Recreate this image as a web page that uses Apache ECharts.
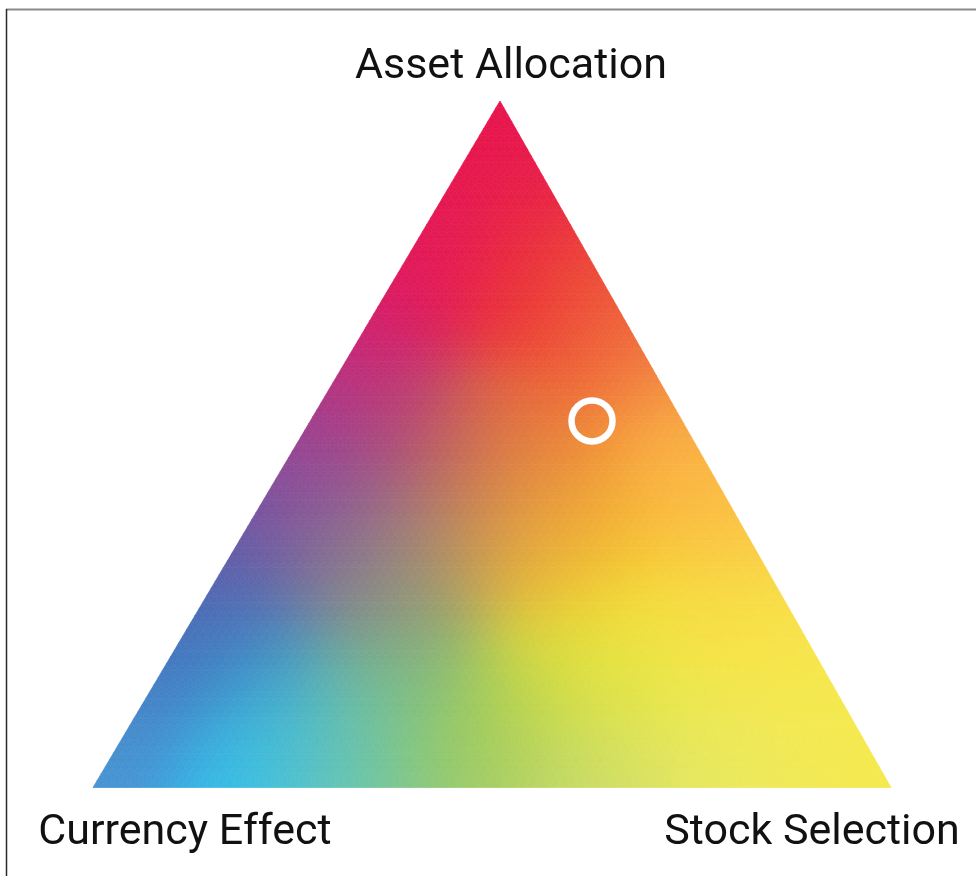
<!DOCTYPE html>
<html>
<head>
<meta charset="utf-8">
<title>Attribution triangle</title>
<script src="https://cdn.jsdelivr.net/npm/echarts@6/dist/echarts.min.js"></script>
<style>
  html, body { margin: 0; padding: 0; background: #fff; }
  #chart { width: 976px; height: 876px; }
</style>
</head>
<body>
<div id="chart"></div>
<script>
// ================= data =================
// corners: top, bottom-right, bottom-left
const cornerNames = ['Asset Allocation', 'Stock Selection', 'Currency Effect']

// the marked point, as shares of each corner
const assetShare = [0.534]
const stockShare = [0.353]
const currencyShare = [0.113]

// ================= background colours =================
// [asset, stock, colour], blended smoothly
const colorStops = [
  // left edge (stock = 0)
  [1.00, 0.00, '#e8134f'], [0.88, 0.00, '#e6164f'], [0.77, 0.00, '#e2175c'],
  [0.68, 0.00, '#d61c6a'], [0.60, 0.00, '#c02a80'], [0.52, 0.00, '#a03a90'],
  [0.45, 0.00, '#84489c'], [0.375, 0.00, '#6a56a8'], [0.30, 0.00, '#5660ac'],
  [0.20, 0.00, '#4470bc'], [0.10, 0.00, '#4886c8'], [0.00, 0.00, '#4a98d6'],
  // bottom edge (asset = 0)
  [0.00, 0.17, '#30c2f0'], [0.00, 0.28, '#5cc4cc'], [0.00, 0.36, '#78c898'],
  [0.00, 0.46, '#98ca68'], [0.00, 0.55, '#b8d468'], [0.00, 0.65, '#d4e070'],
  [0.00, 0.78, '#e8e860'], [0.00, 0.90, '#f2ea55'], [0.00, 1.00, '#f5ea4c'],
  // right edge
  [0.15, 0.85, '#f5e84e'], [0.30, 0.70, '#f8dc48'], [0.40, 0.60, '#fbc444'],
  [0.45, 0.55, '#fbb845'], [0.55, 0.45, '#f59a45'], [0.65, 0.35, '#f07840'],
  [0.75, 0.25, '#ee4a3c'], [0.88, 0.12, '#e81e4a'],
  // inside
  [0.768, 0.043, '#e5185a'], [0.754, 0.151, '#ea2a3c'], [0.710, 0.185, '#ec3530'],
  [0.681, 0.288, '#ef6535'], [0.535, 0.112, '#b84276'], [0.492, 0.197, '#b85a60'],
  [0.450, 0.080, '#9a4c92'],
  [0.419, 0.271, '#b07a6a'], [0.535, 0.274, '#ef6a35'], [0.419, 0.346, '#ea9a40'],
  [0.361, 0.376, '#e4b440'], [0.375, 0.106, '#7e6a9c'], [0.361, 0.200, '#9a8080'],
  [0.317, 0.160, '#8a7c8a'], [0.331, 0.278, '#c0a050'], [0.331, 0.404, '#e8b830'],
  [0.273, 0.509, '#f8e430'], [0.244, 0.260, '#7ea080'], [0.200, 0.107, '#3a88c8'],
  [0.098, 0.172, '#38bce0'], [0.127, 0.257, '#68c0a8'], [0.157, 0.330, '#80c080'],
  [0.098, 0.435, '#9ac858'], [0.127, 0.483, '#b8d448'], [0.157, 0.556, '#d8e040'],
  [0.127, 0.620, '#e8e84a'], [0.040, 0.615, '#c8dc68'], [0.477, 0.292, '#e87038'],
  [0.419, 0.372, '#f8a030'], [0.361, 0.451, '#fbb530'], [0.448, 0.507, '#fcb840'],
  [0.273, 0.621, '#f8d540'], [0.200, 0.721, '#f8e84a'], [0.200, 0.596, '#f5eb45'],
  [0.200, 0.483, '#e4e238'], [0.069, 0.725, '#eeea5a']
]

const APEX_X = 0.51 // top corner sits slightly right of centre
const toXY = (a, s) => [s + a * APEX_X, a]

const hexToRgb = (h) => [
  parseInt(h.slice(1, 3), 16),
  parseInt(h.slice(3, 5), 16),
  parseInt(h.slice(5, 7), 16)
]

// ================= triangle =================
const renderTriangle = (params, api) => {
  const stops = colorStops.map(d => {
    const p = api.coord(toXY(d[0], d[1]))
    return { x: p[0], y: p[1], rgb: hexToRgb(d[2]) }
  })
  const sig2 = 2 * 52 * 52
  const colorAt = (x, y) => {
    let r = 0, g = 0, b = 0, w = 0
    for (const st of stops) {
      const dx = x - st.x, dy = y - st.y
      const k = Math.exp(-(dx * dx + dy * dy) / sig2) + 1e-12
      r += st.rgb[0] * k; g += st.rgb[1] * k; b += st.rgb[2] * k; w += k
    }
    return [r / w, g / w, b / w]
  }

  const N = 100
  const verts = []
  for (let i = 0; i <= N; i++) {
    const row = []
    for (let j = 0; j <= i; j++) {
      const p = api.coord(toXY(1 - i / N, j / N))
      row.push({ p, c: colorAt(p[0], p[1]) })
    }
    verts.push(row)
  }

  const children = []
  const addTri = (v1, v2, v3) => {
    const c = [0, 1, 2].map(k => Math.round((v1.c[k] + v2.c[k] + v3.c[k]) / 3))
    const col = 'rgb(' + c.join(',') + ')'
    children.push({
      type: 'polygon',
      shape: { points: [v1.p, v2.p, v3.p] },
      style: { fill: col, stroke: col, lineWidth: 0.7 },
      silent: true
    })
  }
  for (let i = 0; i < N; i++) {
    for (let j = 0; j <= i; j++) {
      addTri(verts[i][j], verts[i + 1][j], verts[i + 1][j + 1])
      if (j < i) addTri(verts[i][j], verts[i + 1][j + 1], verts[i][j + 1])
    }
  }

  // corner labels
  const top = api.coord(toXY(1, 0))
  const right = api.coord(toXY(0, 1))
  const left = api.coord(toXY(0, 0))
  const labelStyle = { fill: '#111', fontSize: 43, fontFamily: 'Roboto', align: 'center', verticalAlign: 'middle' }
  children.push({ type: 'text', style: Object.assign({ text: cornerNames[0], x: top[0] + 11, y: top[1] - 34 }, labelStyle) })
  children.push({ type: 'text', style: Object.assign({ text: cornerNames[1], x: right[0] - 79, y: right[1] + 46 }, labelStyle) })
  children.push({ type: 'text', style: Object.assign({ text: cornerNames[2], x: left[0] + 92, y: left[1] + 46 }, labelStyle) })

  return { type: 'group', children }
}

// ================= option =================
const chart = echarts.init(document.getElementById('chart'))

const pointData = assetShare.map((a, i) => toXY(a, stockShare[i]).concat([currencyShare[i]]))

chart.setOption({
  animation: false,
  grid: { left: 93, right: 85, top: 101, bottom: 88.5 },
  xAxis: { type: 'value', min: 0, max: 1, show: false },
  yAxis: { type: 'value', min: 0, max: 1, show: false },
  graphic: [
    { type: 'line', shape: { x1: 6, y1: 9.5, x2: 976, y2: 9.5 }, style: { stroke: '#8a8a8a', lineWidth: 2 } },
    { type: 'line', shape: { x1: 6.5, y1: 9, x2: 6.5, y2: 876 }, style: { stroke: '#2a2a2a', lineWidth: 1.5 } }
  ],
  series: [
    {
      type: 'custom',
      renderItem: renderTriangle,
      data: [[0, 0]],
      silent: true,
      z: 1
    },
    {
      type: 'scatter',
      data: pointData,
      symbol: 'circle',
      symbolSize: 41,
      itemStyle: { color: 'rgba(0,0,0,0)', borderColor: '#fff', borderWidth: 6.5, opacity: 1 },
      z: 3
    }
  ]
})
</script>
</body>
</html>
